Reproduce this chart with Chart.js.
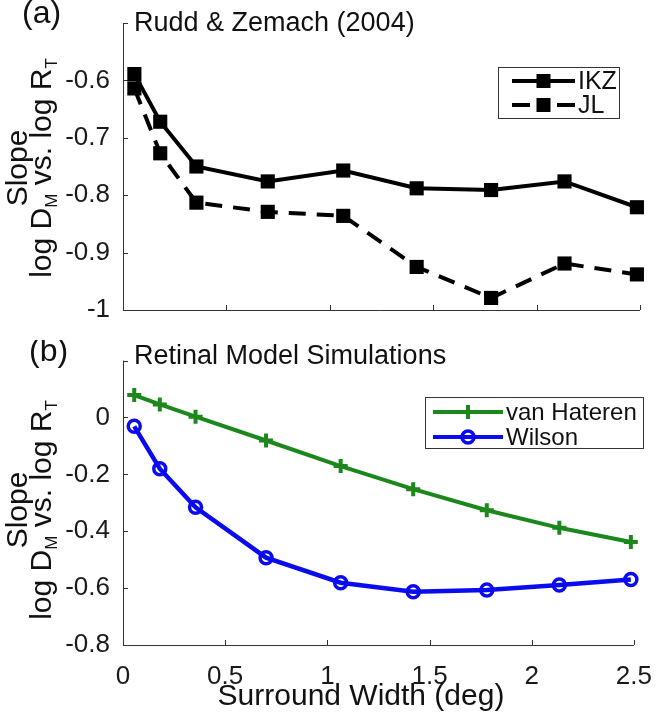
<!DOCTYPE html>
<html>
<head>
<meta charset="utf-8">
<script src="https://cdn.jsdelivr.net/npm/chart.js@4.4.1/dist/chart.umd.min.js"></script>
<style>
body { margin: 0; background: #fff; }
#wrap { position: relative; width: 660px; height: 716px; }
canvas { position: absolute; left: 0; }
</style>
</head>
<body>
<div id="wrap">
  <canvas id="chartA" width="660" height="340" style="top:0"></canvas>
  <canvas id="chartB" width="660" height="376" style="top:340px"></canvas>
</div>
<script>
// data
var surroundWidth = [0.055, 0.18, 0.355, 0.7, 1.065, 1.42, 1.78, 2.135, 2.485];
var slopeIKZ = [-0.589, -0.672, -0.750, -0.776, -0.757, -0.788, -0.791, -0.776, -0.821];
var slopeJL = [-0.614, -0.727, -0.813, -0.829, -0.836, -0.925, -0.979, -0.919, -0.938];
var slopeVanHateren = [0.079, 0.046, 0.003, -0.081, -0.171, -0.252, -0.326, -0.388, -0.438];
var slopeWilson = [-0.031, -0.180, -0.316, -0.493, -0.581, -0.613, -0.607, -0.589, -0.570];

// ticks (top tick of each panel has no label)
var xTicks = [0, 0.5, 1, 1.5, 2, 2.5];
var yTicksA = [-1, -0.9, -0.8, -0.7, -0.6, -0.5];
var yLabelsA = ['-1', '-0.9', '-0.8', '-0.7', '-0.6', ''];
var yTicksB = [-0.8, -0.6, -0.4, -0.2, 0, 0.2];
var yLabelsB = ['-0.8', '-0.6', '-0.4', '-0.2', '0', ''];

var FONT = '"Liberation Sans", Arial, Helvetica, sans-serif';
var GREEN = '#1c881c';
var BLUE = '#0b0bf0';
Chart.defaults.font.family = FONT;
Chart.defaults.color = '#1a1a1a';

function points(ys) {
    return surroundWidth.map(function (x, i) { return { x: x, y: ys[i] }; });
}

// axes like matlab: left + bottom line, short ticks pointing inside
var axesPlugin = {
    id: 'matlabAxes',
    beforeDatasetsDraw: function (chart) {
        var ctx = chart.ctx, a = chart.chartArea;
        var xs = chart.scales.x, ys = chart.scales.y;
        ctx.save();
        ctx.strokeStyle = '#333';
        ctx.lineWidth = 1;
        ctx.beginPath();
        ctx.moveTo(a.left + 0.5, a.top);
        ctx.lineTo(a.left + 0.5, a.bottom + 0.5);
        ctx.lineTo(a.right, a.bottom + 0.5);
        xs.ticks.forEach(function (t) {
            var px = Math.round(xs.getPixelForValue(t.value)) + 0.5;
            ctx.moveTo(px, a.bottom);
            ctx.lineTo(px, a.bottom - 5);
        });
        ys.ticks.forEach(function (t) {
            var py = Math.round(ys.getPixelForValue(t.value)) + 0.5;
            ctx.moveTo(a.left, py);
            ctx.lineTo(a.left + 5, py);
        });
        ctx.stroke();
        ctx.restore();
    }
};

function drawMarker(ctx, style, x, y, color) {
    ctx.save();
    ctx.strokeStyle = color;
    ctx.fillStyle = color;
    if (style === 'rect') {
        ctx.fillRect(x - 7, y - 7, 14, 14);
    } else if (style === 'cross') {
        ctx.lineWidth = 4;
        ctx.beginPath();
        ctx.moveTo(x - 7, y); ctx.lineTo(x + 7, y);
        ctx.moveTo(x, y - 7); ctx.lineTo(x, y + 7);
        ctx.stroke();
    } else {
        ctx.lineWidth = 3.5;
        ctx.beginPath();
        ctx.arc(x, y, 6, 0, Math.PI * 2);
        ctx.stroke();
    }
    ctx.restore();
}

// texts + legend
var textPlugin = {
    id: 'panelText',
    afterDraw: function (chart, args, o) {
        var ctx = chart.ctx;
        ctx.save();
        ctx.fillStyle = '#111';
        ctx.textBaseline = 'middle';
        ctx.textAlign = 'left';
        ctx.font = '32px ' + FONT;
        ctx.fillText(o.tag, o.tagX, o.tagY);
        ctx.font = '27px ' + FONT;
        ctx.fillText(o.title, 134, o.titleY);

        // y label, two rotated lines
        ctx.save();
        ctx.translate(27, o.ylabelY);
        ctx.rotate(-Math.PI / 2);
        ctx.textAlign = 'center';
        ctx.textBaseline = 'alphabetic';
        ctx.font = '30px ' + FONT;
        ctx.fillText('Slope', 0, 0);
        ctx.restore();

        var parts = [['log D', 0], ['M', 1], [' vs. log R', 0], ['T', 1]];
        var big = '30px ' + FONT, small = '17px ' + FONT;
        var total = 0;
        parts.forEach(function (p) {
            ctx.font = p[1] ? small : big;
            total += ctx.measureText(p[0]).width;
        });
        ctx.save();
        ctx.translate(51, o.ylabelY);
        ctx.rotate(-Math.PI / 2);
        ctx.textAlign = 'left';
        ctx.textBaseline = 'alphabetic';
        var pos = -total / 2;
        parts.forEach(function (p) {
            ctx.font = p[1] ? small : big;
            ctx.fillText(p[0], pos, p[1] ? 6 : 0);
            pos += ctx.measureText(p[0]).width;
        });
        ctx.restore();

        if (o.xtitle) {
            ctx.font = '30px ' + FONT;
            ctx.textAlign = 'center';
            ctx.textBaseline = 'middle';
            ctx.fillText(o.xtitle, 361, o.xtitleY);
        }

        // legend box
        var L = o.legend;
        ctx.fillStyle = '#fff';
        ctx.fillRect(L.x, L.y, L.w, L.h);
        ctx.strokeStyle = '#333';
        ctx.lineWidth = 1;
        ctx.strokeRect(L.x + 0.5, L.y + 0.5, L.w, L.h);
        L.items.forEach(function (it, i) {
            var ly = L.y + L.rowY[i];
            ctx.strokeStyle = it.color;
            ctx.lineWidth = 4;
            ctx.beginPath();
            if (it.dash) {
                ctx.moveTo(L.x + L.s0, ly); ctx.lineTo(L.x + L.s0 + 18, ly);
                ctx.moveTo(L.x + L.s1 - 18, ly); ctx.lineTo(L.x + L.s1, ly);
            } else {
                ctx.moveTo(L.x + L.s0, ly); ctx.lineTo(L.x + L.s1, ly);
            }
            ctx.stroke();
            drawMarker(ctx, it.marker, L.x + (L.s0 + L.s1) / 2, ly, it.color);
            ctx.fillStyle = '#111';
            ctx.font = L.font + 'px ' + FONT;
            ctx.textAlign = 'left';
            ctx.textBaseline = 'middle';
            ctx.fillText(it.label, L.x + L.s1 + 3, ly + 1);
        });
        ctx.restore();
    }
};

function makeChart(id, datasets, yTicks, yLabels, showX, padTop, xHeight, textOpts) {
    return new Chart(document.getElementById(id), {
        type: 'scatter',
        data: { datasets: datasets },
        options: {
            responsive: false,
            animation: false,
            layout: { padding: { left: 0, right: 20, top: padTop, bottom: 0 } },
            plugins: {
                legend: { display: false },
                tooltip: { enabled: false },
                panelText: textOpts
            },
            scales: {
                x: {
                    type: 'linear', min: 0, max: 2.5,
                    grid: { display: false },
                    border: { display: false },
                    afterBuildTicks: function (s) { s.ticks = xTicks.map(function (v) { return { value: v }; }); },
                    afterFit: function (s) { s.height = xHeight; },
                    ticks: {
                        display: showX,
                        padding: 8,
                        maxRotation: 0,
                        font: { size: 26 },
                        callback: function (v) { return String(v); }
                    }
                },
                y: {
                    type: 'linear', min: yTicks[0], max: yTicks[yTicks.length - 1],
                    grid: { display: false },
                    border: { display: false },
                    afterBuildTicks: function (s) { s.ticks = yTicks.map(function (v) { return { value: v }; }); },
                    afterFit: function (s) { s.width = 123; },
                    ticks: {
                        padding: 5,
                        font: { size: 26 },
                        callback: function (v, i) { return yLabels[i]; }
                    }
                }
            }
        },
        plugins: [axesPlugin, textPlugin]
    });
}

makeChart('chartA', [
    {
        label: 'IKZ', data: points(slopeIKZ), showLine: true, clip: false,
        borderColor: '#000', borderWidth: 4,
        pointStyle: 'rect', pointRadius: 10, pointBackgroundColor: '#000', pointBorderColor: '#000', pointBorderWidth: 0
    },
    {
        label: 'JL', data: points(slopeJL), showLine: true, clip: false,
        borderColor: '#000', borderWidth: 4, borderDash: [17, 11],
        pointStyle: 'rect', pointRadius: 10, pointBackgroundColor: '#000', pointBorderColor: '#000', pointBorderWidth: 0
    }
], yTicksA, yLabelsA, false, 23, 30, {
    tag: '(a)', tagX: 22, tagY: 14, title: 'Rudd & Zemach (2004)', titleY: 24, ylabelY: 168,
    legend: {
        x: 498, y: 67, w: 121, h: 51, s0: 14, s1: 77, rowY: [14, 38], font: 25,
        items: [
            { label: 'IKZ', color: '#000', marker: 'rect', dash: false },
            { label: 'JL', color: '#000', marker: 'rect', dash: true }
        ]
    }
});

makeChart('chartB', [
    {
        label: 'van Hateren', data: points(slopeVanHateren), showLine: true, clip: false,
        borderColor: GREEN, borderWidth: 4,
        pointStyle: 'cross', pointRadius: 7, pointBorderColor: GREEN, pointBorderWidth: 4
    },
    {
        label: 'Wilson', data: points(slopeWilson), showLine: true, clip: false,
        borderColor: BLUE, borderWidth: 4.5,
        pointStyle: 'circle', pointRadius: 6, pointBackgroundColor: 'rgba(0,0,0,0)', pointBorderColor: BLUE, pointBorderWidth: 3.5
    }
], yTicksB, yLabelsB, true, 20, 71, {
    tag: '(b)', tagX: 29, tagY: 12, title: 'Retinal Model Simulations', titleY: 17, ylabelY: 170,
    xtitle: 'Surround Width (deg)', xtitleY: 357,
    legend: {
        x: 425, y: 57, w: 218, h: 51, s0: 8, s1: 78, rowY: [15, 40], font: 24,
        items: [
            { label: 'van Hateren', color: GREEN, marker: 'cross' },
            { label: 'Wilson', color: BLUE, marker: 'circle' }
        ]
    }
});
</script>
</body>
</html>
